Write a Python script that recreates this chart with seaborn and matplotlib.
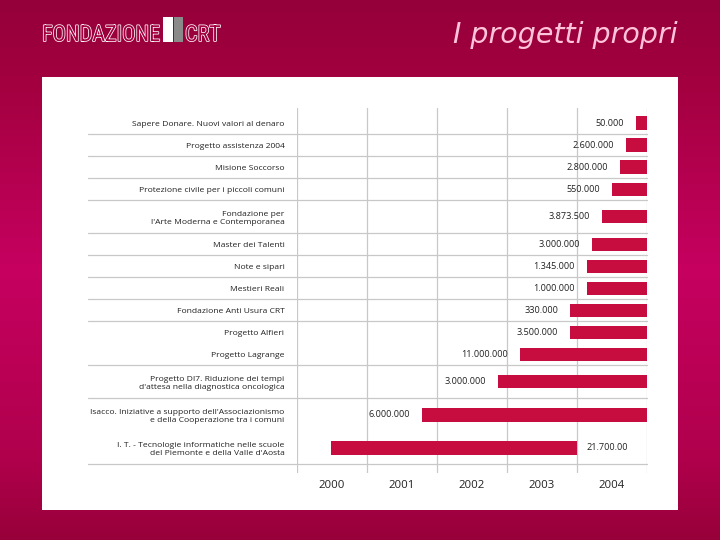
import numpy as np
import pandas as pd
import matplotlib
matplotlib.use("Agg")
import matplotlib.pyplot as plt
import seaborn as sns
from matplotlib import font_manager as fm
from matplotlib.patches import Rectangle
from matplotlib.colors import LinearSegmentedColormap
import matplotlib.patheffects as pe

# ---------------- data ----------------
projects = [
    "Sapere Donare. Nuovi valori al denaro",
    "Progetto assistenza 2004",
    "Misione Soccorso",
    "Protezione civile per i piccoli comuni",
    "Fondazione per\nl'Arte Moderna e Contemporanea",
    "Master dei Talenti",
    "Note e sipari",
    "Mestieri Reali",
    "Fondazione Anti Usura CRT",
    "Progetto Alfieri",
    "Progetto Lagrange",
    "Progetto DI7. Riduzione dei tempi\nd'attesa nella diagnostica oncologica",
    "Isacco. Iniziative a supporto dell'Associazionismo\ne della Cooperazione tra i comuni",
    "I. T. - Tecnologie informatiche nelle scuole\ndel Piemonte e della Valle d'Aosta",
]
# start and end of each project, in years after the start of 2000
start_year = [4.84, 4.70, 4.61, 4.50, 4.36, 4.21, 4.14, 4.14, 3.90, 3.90, 3.18, 2.87, 1.79, 0.49]
end_year = [5.00, 5.00, 5.00, 5.02, 5.00, 5.00, 5.00, 5.00, 5.00, 5.00, 5.00, 5.00, 5.00, 4.00]
amounts = ["50.000", "2.600.000", "2.800.000", "550.000", "3.873.500", "3.000.000",
           "1.345.000", "1.000.000", "330.000", "3.500.000", "11.000.000", "3.000.000",
           "6.000.000", "21.700.00"]
years = ["2000", "2001", "2002", "2003", "2004"]
separator_after = [True, True, True, True, True, True, True, True, True, False, True, True, False, True]

# ---------------- layout helpers ----------------
row_h = np.array([1.0 if "\n" not in p else 1.5 for p in projects])
row_bottom = np.cumsum(row_h)
row_center = row_bottom - row_h / 2

df = pd.DataFrame({
    "pos": row_center,
    "duration": np.array(end_year) - np.array(start_year),
})

available = {f.name for f in fm.fontManager.ttflist}
def pick(*names):
    for n in names:
        if n in available:
            return n
    return "DejaVu Sans"

sns.set_theme(style="white")
label_font = pick("Open Sans", "Noto Sans", "DejaVu Sans")
plt.rcParams["font.family"] = [label_font, "DejaVu Sans"]

W, H = 720, 540
fig = plt.figure(figsize=(7.2, 5.4), dpi=100)

# background gradient
bg = fig.add_axes([0, 0, 1, 1], zorder=-10)
cmap = LinearSegmentedColormap.from_list(
    "bg", [(0, "#95003a"), (0.15, "#a3003f"), (0.5, "#c60060"), (0.85, "#b0004c"), (1, "#98003a")])
grad = np.linspace(0, 1, 256).reshape(-1, 1)
bg.imshow(grad, aspect="auto", cmap=cmap, extent=[0, 1, 0, 1], origin="upper")
bg.set_axis_off()

# white panel
fig.patches.append(Rectangle((42 / W, 1 - 510 / H), 636 / W, 433 / H,
                             transform=fig.transFigure, facecolor="white",
                             edgecolor="none", zorder=-5))

# logo
logo_font = pick("Liberation Sans Narrow", "DejaVu Sans Condensed", "Roboto Condensed",
                 "Liberation Sans", "DejaVu Sans")
logo_fx = [pe.withStroke(linewidth=1.1, foreground="white")]
t1 = fig.text(42 / W, 1 - 41 / H, "FONDAZIONE", family=logo_font, fontsize=20, color="#a4003f",
              ha="left", va="baseline", path_effects=logo_fx)
fig.canvas.draw()
bw = t1.get_window_extent().width
logo_size = 20 * 118.0 / bw
t1.set_fontsize(logo_size)
fig.patches.append(Rectangle((163 / W, 1 - 42 / H), 10 / W, 25 / H, transform=fig.transFigure,
                             facecolor="white", edgecolor="none"))
fig.patches.append(Rectangle((174 / W, 1 - 42 / H), 9 / W, 25 / H, transform=fig.transFigure,
                             facecolor="#8a8a8a", edgecolor="none"))
fig.text(185 / W, 1 - 41 / H, "CRT", family=logo_font, fontsize=logo_size, color="#a4003f",
         ha="left", va="baseline", path_effects=logo_fx)

# title
fig.text(678 / W, 1 - 43 / H, "I progetti propri", family="DejaVu Sans", style="italic",
         fontsize=20.5, color="#ffc4da", ha="right", va="baseline")

# chart axes
ax = fig.add_axes([297 / W, 1 - 473 / H, 350 / W, 365 / H])
ax.set_facecolor("none")
bar_color = "#c70c40"
sns.barplot(data=df, x="duration", y="pos", orient="h", native_scale=True,
            left=np.array(start_year), width=0.6, color=bar_color, saturation=1,
            errorbar=None, ax=ax, zorder=3, linewidth=0)

u_top = -4 / 22.0
u_bot = row_bottom[-1] + 8.5 / 22.0
ax.set_xlim(0, 5)
ax.set_ylim(u_bot, u_top)

# vertical grid lines
ax.set_xticks(np.arange(0, 6))
ax.set_xticks(np.arange(0.5, 5), minor=True)
ax.set_xticklabels([])
ax.set_xticklabels(years, minor=True, fontsize=8.2, color="#222222")
ax.tick_params(axis="x", which="major", length=0)
ax.tick_params(axis="x", which="minor", length=0, pad=5)
ax.grid(axis="x", which="major", color="#c8c8c8", linewidth=0.9, zorder=0)
ax.grid(axis="y", visible=False)
for s in ax.spines.values():
    s.set_visible(False)

# row labels
ax.set_yticks(row_center)
ax.set_yticklabels(projects, fontsize=6.1, color="#222222", linespacing=1.3)
ax.tick_params(axis="y", length=0, pad=9)
for t in ax.get_yticklabels():
    t.set_horizontalalignment("right")
    t.set_multialignment("right")

# separators
x_left = -(297 - 88) / 70.0
for yb, sep in zip(row_bottom, separator_after):
    if sep:
        ax.plot([x_left, 5], [yb, yb], color="#c8c8c8", linewidth=0.9,
                clip_on=False, zorder=1)

# amount labels
gap = 12 / 70.0
for yc, s, e, txt in zip(row_center, start_year, end_year, amounts):
    if s < 1:
        ax.text(e + gap * 0.8, yc, txt, ha="left", va="center", fontsize=6.6,
                color="#222222", zorder=4)
    else:
        ax.text(s - gap, yc, txt, ha="right", va="center", fontsize=6.6,
                color="#222222", zorder=4)

ax.set_xlabel("")
ax.set_ylabel("")

fig.savefig("out.png", dpi=100)
